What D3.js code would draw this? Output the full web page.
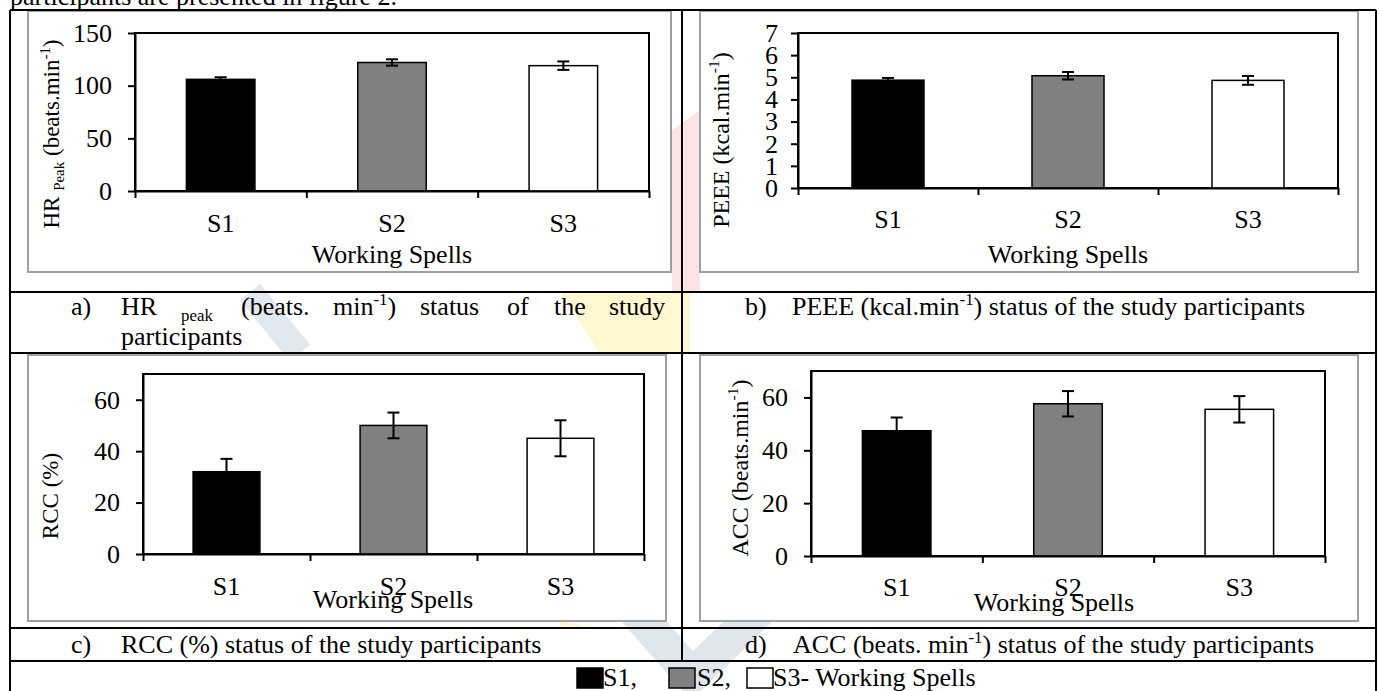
<!DOCTYPE html>
<html>
<head>
<meta charset="utf-8">
<script src="https://cdn.jsdelivr.net/npm/d3@7"></script>
<style>
  body { margin: 0; background: #fff; }
  svg { display: block; font-family: "Liberation Serif", "Times New Roman", serif; }
</style>
</head>
<body>
<script>
// working spells and the four measured variables (mean and error)
var spells = ["S1", "S2", "S3"];
var barFills = ["#000000", "#808080", "#ffffff"];

var hrPeak = [106, 122, 119];
var hrPeakErr = [2, 3, 4];
var hrTicks = [0, 50, 100, 150];

var peee = [4.87, 5.07, 4.86];
var peeeErr = [0.1, 0.17, 0.2];
var peeeTicks = [0, 1, 2, 3, 4, 5, 6, 7];

var rcc = [32, 50, 45];
var rccErr = [5, 5, 7];
var rccTicks = [0, 20, 40, 60];

var acc = [47.4, 57.6, 55.5];
var accErr = [5, 4.8, 5];
var accTicks = [0, 20, 40, 60];

var W = 1379, H = 691;
var serif = '"Liberation Serif", "Times New Roman", serif';
var svg = d3.select("body").append("svg")
	.attr("width", W)
	.attr("height", H)
	.attr("font-family", serif);

svg.append("rect").attr("width", W).attr("height", H).attr("fill", "#fff");

// faint watermark behind the table (journal logo)
var wm = svg.append("g").attr("fill", "none");
wm.append("path").attr("d", "M560,292 L690,292 L690,353 L600,353 Z").attr("fill", "#fff7cf").attr("stroke", "none");
wm.append("path").attr("d", "M672,130 L700,110 L700,292 L672,292 Z").attr("fill", "#fde3e3").attr("stroke", "none");
wm.append("path").attr("d", "M625,600 L692,676 L770,600").attr("stroke", "#dfe7ec").attr("stroke-width", 34);
wm.append("path").attr("d", "M250,292 L300,353").attr("stroke", "#e2e9ee").attr("stroke-width", 26);
wm.append("path").attr("d", "M560,621 L600,628 L560,628 Z").attr("fill", "#fff3d6").attr("stroke", "none");

// cut-off line of running text above the table
svg.append("text")
	.attr("x", 10).attr("y", 5)
	.attr("font-size", 26)
	.text("participants are presented in figure 2.");

// panels: gray chart box, plot area and label placement
var panels = [
	{ box: [28, 11, 671, 272], plot: [135, 33, 649, 191], domain: [0, 150], ticks: hrTicks,
	  values: hrPeak, errs: hrPeakErr, pad: 16, wsX: 392, wsY: 263, catDy: 41,
	  titleX: 59, titleY: 134, titleSize: 23,
	  title: [{t: "HR "}, {t: "Peak", sub: true}, {t: " (beats.min"}, {t: "-1", sup: true}, {t: ")"}] },
	{ box: [700, 11, 1358, 272], plot: [798, 33, 1338, 188], domain: [0, 7], ticks: peeeTicks,
	  values: peee, errs: peeeErr, pad: 13, wsX: 1068, wsY: 263, catDy: 40,
	  titleX: 729, titleY: 140, titleSize: 24,
	  title: [{t: "PEEE (kcal.min"}, {t: "-1", sup: true}, {t: ")"}] },
	{ box: [28, 355, 666, 621], plot: [143, 374, 644, 554], domain: [0, 70], ticks: rccTicks,
	  values: rcc, errs: rccErr, pad: 16, wsX: 393, wsY: 608, catDy: 41,
	  titleX: 58, titleY: 496, titleSize: 23,
	  title: [{t: "RCC (%)"}] },
	{ box: [700, 355, 1358, 621], plot: [811, 371, 1325, 556], domain: [0, 70], ticks: accTicks,
	  values: acc, errs: accErr, pad: 16, wsX: 1054, wsY: 611, catDy: 40,
	  titleX: 748, titleY: 468, titleSize: 24,
	  title: [{t: "ACC (beats.min"}, {t: "-1", sup: true}, {t: ")"}] }
];

// helper to write text with sub / superscript pieces
function richText(sel, parts, size) {
	var shift = 0;
	parts.forEach(function(p) {
		var target = p.sub ? size * 0.22 : (p.sup ? -size * 0.4 : 0);
		sel.append("tspan")
			.attr("dy", target - shift)
			.attr("font-size", (p.sub || p.sup) ? size * 0.65 : size)
			.text(p.t);
		shift = target;
	});
}

panels.forEach(function(p) {
	var g = svg.append("g");
	var x0 = p.plot[0], y0 = p.plot[1], x1 = p.plot[2], y1 = p.plot[3];

	g.append("rect")
		.attr("x", p.box[0]).attr("y", p.box[1])
		.attr("width", p.box[2] - p.box[0]).attr("height", p.box[3] - p.box[1])
		.attr("fill", "#fff").attr("stroke", "#a0a0a0").attr("stroke-width", 2);

	var xScale = d3.scaleBand().domain(spells).range([x0, x1]).paddingInner(0.6).paddingOuter(0.3);
	var xEdge = d3.scaleLinear().domain([0, spells.length]).range([x0, x1]);
	var yScale = d3.scaleLinear().domain(p.domain).range([y1, y0]);

	g.append("rect")
		.attr("x", x0).attr("y", y0).attr("width", x1 - x0).attr("height", y1 - y0)
		.attr("fill", "#fff").attr("stroke", "#000").attr("stroke-width", 2);

	g.selectAll("rect.bar")
		.data(p.values)
		.enter()
		.append("rect")
		.attr("class", "bar")
		.attr("x", function(d, i) { return xScale(spells[i]); })
		.attr("y", function(d) { return yScale(d); })
		.attr("width", xScale.bandwidth())
		.attr("height", function(d) { return yScale(0) - yScale(d); })
		.attr("fill", function(d, i) { return barFills[i]; })
		.attr("stroke", "#000").attr("stroke-width", 1.5);

	// error bars
	var eb = g.selectAll("g.err")
		.data(p.values)
		.enter()
		.append("g")
		.attr("class", "err")
		.attr("stroke", "#000").attr("stroke-width", 2);
	eb.append("line")
		.attr("x1", function(d, i) { return xScale(spells[i]) + xScale.bandwidth() / 2; })
		.attr("x2", function(d, i) { return xScale(spells[i]) + xScale.bandwidth() / 2; })
		.attr("y1", function(d, i) { return yScale(d + p.errs[i]); })
		.attr("y2", function(d, i) { return yScale(d - p.errs[i]); });
	[1, -1].forEach(function(sgn) {
		eb.append("line")
			.attr("x1", function(d, i) { return xScale(spells[i]) + xScale.bandwidth() / 2 - 6; })
			.attr("x2", function(d, i) { return xScale(spells[i]) + xScale.bandwidth() / 2 + 6; })
			.attr("y1", function(d, i) { return yScale(d + sgn * p.errs[i]); })
			.attr("y2", function(d, i) { return yScale(d + sgn * p.errs[i]); });
	});

	// y axis
	var ya = g.append("g")
		.attr("transform", "translate(" + x0 + ",0)")
		.call(d3.axisLeft(yScale).tickValues(p.ticks).tickSize(7).tickSizeOuter(0)
			.tickPadding(p.pad).tickFormat(d3.format("d")));
	// x axis: ticks at category boundaries
	var xa = g.append("g")
		.attr("transform", "translate(0," + y1 + ")")
		.call(d3.axisBottom(xEdge).tickValues(d3.range(spells.length + 1)).tickSize(7).tickSizeOuter(0).tickFormat(""));
	[ya, xa].forEach(function(a) {
		a.attr("font-family", serif).attr("font-size", 26);
		a.selectAll("path, line").attr("stroke", "#000").attr("stroke-width", 2);
		a.selectAll("text").attr("fill", "#000");
	});

	g.selectAll("text.cat")
		.data(spells)
		.enter()
		.append("text")
		.attr("class", "cat")
		.attr("x", function(d) { return xScale(d) + xScale.bandwidth() / 2; })
		.attr("y", y1 + p.catDy)
		.attr("text-anchor", "middle")
		.attr("font-size", 26)
		.text(function(d) { return d; });

	g.append("text")
		.attr("x", p.wsX).attr("y", p.wsY)
		.attr("text-anchor", "middle")
		.attr("font-size", 26)
		.text("Working Spells");

	var t = g.append("text")
		.attr("transform", "translate(" + p.titleX + "," + p.titleY + ") rotate(-90)")
		.attr("text-anchor", "middle");
	richText(t, p.title, p.titleSize);
});

// table grid
var grid = svg.append("g").attr("stroke", "#000").attr("stroke-width", 2);
[[10, 10, 1376, 10], [10, 292, 1376, 292], [10, 353, 1376, 353], [10, 628, 1376, 628],
 [10, 661, 1376, 661], [10, 10, 10, 691], [1376, 10, 1376, 691], [682, 10, 682, 661]]
	.forEach(function(l) {
		grid.append("line").attr("x1", l[0]).attr("y1", l[1]).attr("x2", l[2]).attr("y2", l[3]);
	});

// captions
var capSize = 26;
function caption(x, y, parts) {
	var t = svg.append("text").attr("x", x).attr("y", y);
	richText(t, parts, capSize);
}
caption(71, 315, [{t: "a)"}]);
var capA = [
	{x: 121, p: [{t: "HR"}]},
	{x: 181, p: [{t: "peak", sub: true}]},
	{x: 241, p: [{t: "(beats."}]},
	{x: 333, p: [{t: "min"}, {t: "-1", sup: true}, {t: ")"}]},
	{x: 420, p: [{t: "status"}]},
	{x: 507, p: [{t: "of"}]},
	{x: 554, p: [{t: "the"}]},
	{x: 609, p: [{t: "study"}]}
];
capA.forEach(function(w) { caption(w.x, 315, w.p); });
caption(121, 345, [{t: "participants"}]);

caption(745, 315, [{t: "b)"}]);
caption(792, 315, [{t: "PEEE (kcal.min"}, {t: "-1", sup: true}, {t: ") status of the study participants"}]);
caption(71, 653, [{t: "c)"}]);
caption(121, 653, [{t: "RCC (%) status of the study participants"}]);
caption(745, 653, [{t: "d)"}]);
caption(793, 653, [{t: "ACC (beats. min"}, {t: "-1", sup: true}, {t: ") status of the study participants"}]);

// legend row
var legend = [
	{sq: 577, tx: 603, label: "S1,"},
	{sq: 669, tx: 697, label: "S2,"},
	{sq: 747, tx: 773, label: "S3- Working Spells"}
];
legend.forEach(function(l, i) {
	svg.append("rect")
		.attr("x", l.sq).attr("y", 668).attr("width", 26).attr("height", 20)
		.attr("fill", barFills[i]).attr("stroke", "#000").attr("stroke-width", 1.5);
	svg.append("text").attr("x", l.tx).attr("y", 686).attr("font-size", capSize).text(l.label);
});
</script>
</body>
</html>
